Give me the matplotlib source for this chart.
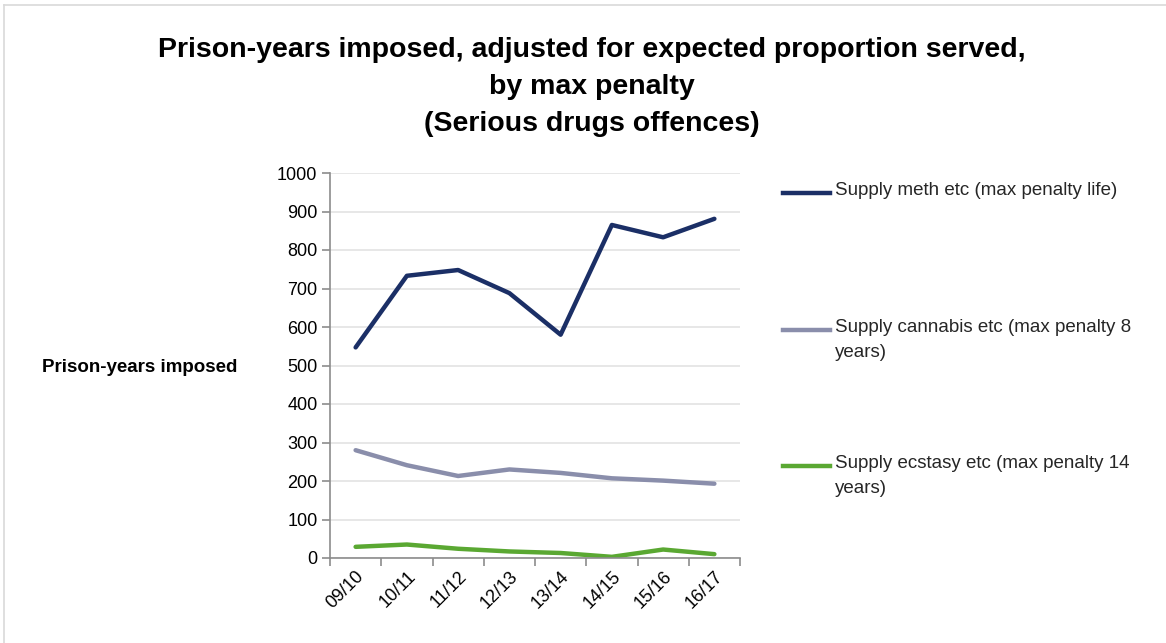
import matplotlib
matplotlib.use('Agg')
import matplotlib.pyplot as plt
from matplotlib.lines import Line2D
import numpy as np

plt.rcParams['font.family'] = ['Liberation Sans Narrow', 'Liberation Sans', 'DejaVu Sans']

years = ['09/10', '10/11', '11/12', '12/13', '13/14', '14/15', '15/16', '16/17']
meth = [547, 733, 748, 688, 580, 865, 833, 881]
cannabis = [280, 241, 213, 230, 221, 207, 201, 193]
ecstasy = [29, 35, 24, 17, 13, 3, 22, 10]

labels = ['Supply meth etc (max penalty life)',
          'Supply cannabis etc (max penalty 8\nyears)',
          'Supply ecstasy etc (max penalty 14\nyears)']
colors = ['#1b2f66', '#8a8eab', '#5aa832']

W, H = 1166, 643
fig = plt.figure(figsize=(W / 100, H / 100), dpi=100)
fig.patch.set_facecolor('white')

# chart frame (top and left edge visible)
fig.add_artist(Line2D([4 / W, 1], [1 - 5 / H, 1 - 5 / H], color='#d9d9d9', lw=1.2))
fig.add_artist(Line2D([4 / W, 4 / W], [0, 1 - 5 / H], color='#d9d9d9', lw=1.2))

ax = fig.add_axes([330 / W, 1 - 558 / H, 410 / W, 385 / H])
x = np.arange(len(years))
for vals, c in zip([meth, cannabis, ecstasy], colors):
    ax.plot(x, vals, color=c, lw=3.2, solid_capstyle='round', solid_joinstyle='round')

ax.set_xlim(-0.5, len(years) - 0.5)
ax.set_ylim(0, 1000)
ax.set_yticks(range(0, 1001, 100))
ax.set_xticks(x)
ax.set_xticklabels(years, rotation=45, ha='right', rotation_mode='anchor', fontsize=13)
ax.set_xticks(np.arange(-0.5, len(years)), minor=True)
ax.tick_params(axis='x', which='major', length=0, pad=7)
ax.tick_params(axis='x', which='minor', length=6, color='#8c8c8c', width=1.2)
ax.tick_params(axis='y', length=6, color='#8c8c8c', width=1.2, labelsize=13, pad=3)
ax.grid(axis='y', color='#e3e3e3', lw=1.2)
ax.set_axisbelow(True)
for s in ['top', 'right']:
    ax.spines[s].set_visible(False)
for s in ['left', 'bottom']:
    ax.spines[s].set_color('#8c8c8c')
    ax.spines[s].set_linewidth(1.2)

fig.text(42 / W, 1 - 368 / H, 'Prison-years imposed', fontsize=13.5, fontweight='bold',
         va='center', ha='left')

fig.text(592 / W, 1 - 87 / H,
         'Prison-years imposed, adjusted for expected proportion served,\nby max penalty\n(Serious drugs offences)',
         fontsize=20.5, fontweight='bold', ha='center', va='center', linespacing=1.55)

# legend entries
leg_y = [193, 330, 466]
for lab, c, yy in zip(labels, colors, leg_y):
    fig.add_artist(Line2D([783 / W, 830 / W], [1 - yy / H] * 2, color=c, lw=3.2))
    fig.text(835 / W, 1 - (yy - 11) / H, lab, fontsize=13.5, va='top', ha='left',
             linespacing=1.65, color='#262626')

fig.savefig('out.png', dpi=100)
